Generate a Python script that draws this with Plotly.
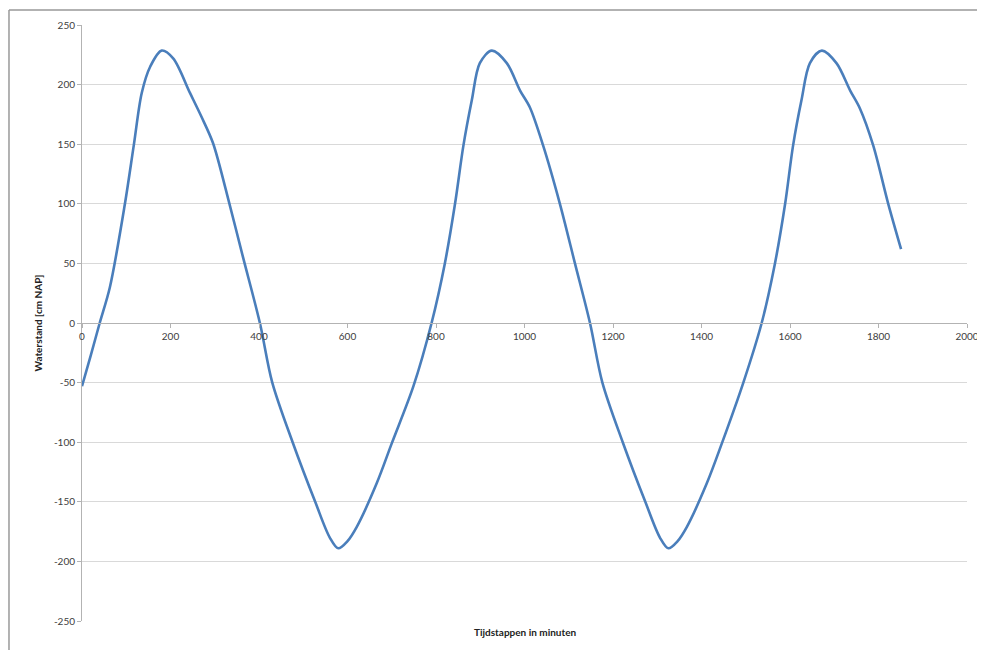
import plotly.graph_objects as go

# Time steps (minutes) and water level (cm NAP)
tijd = [0, 20, 40, 63, 97, 117, 135, 154, 180, 206, 244, 270, 296, 327, 364, 402,
        430, 476, 527, 560, 579, 600, 621, 666, 700, 749, 790, 820, 843, 862, 881, 899, 926,
        960, 990, 1012, 1042, 1080, 1114, 1148, 1176, 1222, 1273, 1306, 1325, 1346,
        1367, 1412, 1446, 1494, 1536, 1566, 1589, 1607, 1626, 1645, 1672, 1705, 1736,
        1758, 1788, 1822, 1851]
waterstand = [-53, -27, 0, 30, 100, 149, 193, 215, 228.5, 222, 193, 173, 151, 109, 55, 0,
              -50, -100, -150, -180, -189, -183, -171, -134.5, -101, -53, 0, 50, 100, 149, 187, 218, 228.5,
              218, 195, 181, 149, 100, 50, 0, -50, -100, -150, -180, -189, -183,
              -171, -134.5, -101, -50.6, 0, 50, 100, 149, 187, 218, 228.5, 218, 195,
              180, 149, 100, 62]

x_ticks = [0, 200, 400, 600, 800, 1000, 1200, 1400, 1600, 1800, 2000]
y_ticks = [250, 200, 150, 100, 50, 0, -50, -100, -150, -200, -250]
y_labels = [str(v) for v in y_ticks]

FONT = "Lato, 'Open Sans', sans-serif"

fig = go.Figure()
fig.add_trace(go.Scatter(
    x=tijd, y=waterstand, mode="lines",
    line=dict(color="#4a7ebb", width=2.6, shape="spline", smoothing=0.9),
    showlegend=False, hoverinfo="x+y",
))

frame = dict(color="#999999", width=1.5)

# page body has an 8px margin, so the figure is sized/offset to compensate
fig.update_layout(
    width=977, height=642,
    margin=dict(l=74, r=18, t=17, b=29),
    paper_bgcolor="white", plot_bgcolor="white",
    font=dict(family=FONT, size=10, color="#404040"),
    xaxis=dict(
        range=[0, 2000], tickvals=x_ticks, showgrid=False, zeroline=False,
        anchor="free", position=0.5, automargin=False,
        showline=True, linecolor="#b3b3b3", linewidth=1,
        ticks="outside", ticklen=4, tickcolor="#b3b3b3",
        tickfont=dict(family=FONT, size=10, color="#404040"),
    ),
    yaxis=dict(
        range=[-250, 250], tickvals=y_ticks, ticktext=y_labels,
        showgrid=True, gridcolor="#d9d9d9", automargin=False,
        gridwidth=1, zeroline=False,
        showline=True, linecolor="#b3b3b3", linewidth=1,
        ticks="outside", ticklen=4, tickcolor="#b3b3b3",
        tickfont=dict(family=FONT, size=10, color="#404040"),
        title=dict(text="<b>Waterstand [cm NAP]</b>", standoff=9,
                   font=dict(family=FONT, size=10, color="#222222")),
    ),
    annotations=[dict(
        text="<b>Tijdstappen in minuten</b>", xref="paper", yref="paper",
        x=0.5, y=-0.018, xanchor="center", yanchor="middle", showarrow=False,
        font=dict(family=FONT, size=10, color="#222222"),
    )],
    shapes=[
        dict(type="line", xref="paper", yref="paper",
             x0=-0.0825, x1=-0.0825, y0=-0.08, y1=1.025, line=frame, layer="below"),
        dict(type="line", xref="paper", yref="paper",
             x0=-0.0825, x1=1.06, y0=1.025, y1=1.025, line=frame, layer="below"),
    ],
)

fig.write_html("out.html")
